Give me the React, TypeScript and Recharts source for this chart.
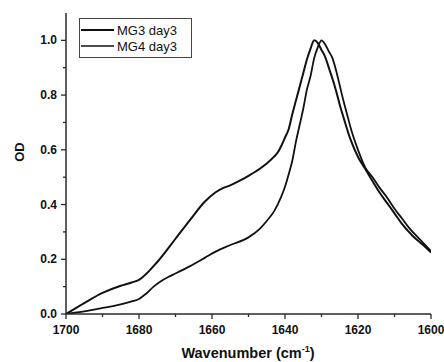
import React from "react";
import { LineChart, Line, XAxis, YAxis, Legend, Label } from "recharts";

const mg3Wavenumbers = [1700, 1695, 1690, 1685, 1682, 1680, 1675, 1670, 1666, 1662, 1659, 1657, 1655, 1652, 1650, 1647, 1645, 1643, 1642, 1641, 1640, 1639, 1638, 1637, 1636, 1635, 1634, 1633, 1632, 1631, 1630, 1629, 1628, 1627, 1626, 1625, 1624, 1622, 1620, 1618, 1616, 1614, 1612, 1610, 1608, 1605, 1602, 1600];
const mg3Values = [0.0, 0.04, 0.077, 0.103, 0.115, 0.125, 0.19, 0.275, 0.344, 0.41, 0.445, 0.46, 0.47, 0.49, 0.505, 0.53, 0.55, 0.575, 0.59, 0.615, 0.645, 0.675, 0.73, 0.78, 0.83, 0.88, 0.93, 0.97, 1.0, 0.99, 0.965, 0.94, 0.9, 0.86, 0.815, 0.765, 0.72, 0.636, 0.574, 0.53, 0.485, 0.442, 0.405, 0.368, 0.33, 0.285, 0.25, 0.225];

const mg4Wavenumbers = [1700, 1698, 1695, 1690, 1685, 1682, 1680, 1678, 1676, 1674, 1672, 1670, 1666, 1662, 1659, 1655, 1650, 1647, 1645, 1643, 1641, 1640, 1639, 1638, 1637, 1636, 1635, 1634, 1633, 1632, 1631, 1630, 1629, 1628, 1627, 1626, 1625, 1624, 1623, 1622, 1620, 1618, 1616, 1614, 1612, 1610, 1608, 1606, 1603, 1600];
const mg4Values = [0.0, 0.004, 0.01, 0.022, 0.035, 0.046, 0.055, 0.075, 0.1, 0.12, 0.135, 0.148, 0.175, 0.205, 0.228, 0.252, 0.28, 0.31, 0.34, 0.375, 0.43, 0.465, 0.51, 0.56, 0.63, 0.69, 0.75, 0.82, 0.87, 0.935, 0.975, 1.0, 0.985, 0.96, 0.935, 0.89, 0.835, 0.78, 0.73, 0.68, 0.6, 0.535, 0.5, 0.46, 0.425, 0.385, 0.35, 0.315, 0.272, 0.23];

const seriesNames = ["MG3 day3", "MG4 day3"];
const xTicks = [1600, 1610, 1620, 1630, 1640, 1650, 1660, 1670, 1680, 1690, 1700];
const xLabelTicks = [1600, 1620, 1640, 1660, 1680, 1700];
const yTicks = [0, 0.1, 0.2, 0.3, 0.4, 0.5, 0.6, 0.7, 0.8, 0.9, 1.0];
const yLabelTicks = [0, 0.2, 0.4, 0.6, 0.8, 1.0];

const mg3Data = mg3Wavenumbers.map((w, i) => ({ w, od: mg3Values[i] }));
const mg4Data = mg4Wavenumbers.map((w, i) => ({ w, od: mg4Values[i] }));

const FONT = "'Liberation Sans', Arial, sans-serif";
const AXIS = "#2a2a2a";

const XTick = (props: any) => {
  const { x, y, payload } = props;
  const v = payload.value;
  const major = xLabelTicks.some((t) => Math.abs(t - v) < 1e-6);
  return (
    <g>
      <line x1={x} x2={x} y1={y} y2={y + (major ? 5 : 3)} stroke={AXIS} strokeWidth={1.3} />
      {major && (
        <text x={x} y={y + 20} textAnchor="middle" fontFamily={FONT} fontWeight="bold" fontSize={12} fill="#111">
          {v}
        </text>
      )}
    </g>
  );
};

const YTick = (props: any) => {
  const { x, y, payload } = props;
  const v = payload.value;
  const major = yLabelTicks.some((t) => Math.abs(t - v) < 1e-6);
  return (
    <g>
      <line x1={x} x2={x - (major ? 5 : 3)} y1={y} y2={y} stroke={AXIS} strokeWidth={1.3} />
      {major && (
        <text x={x - 9} y={y + 4} textAnchor="end" fontFamily={FONT} fontWeight="bold" fontSize={12} fill="#111">
          {v.toFixed(1)}
        </text>
      )}
    </g>
  );
};

const LegendBox = () => (
  <div
    style={{
      border: "1px solid #444",
      width: 113,
      height: 40,
      boxSizing: "border-box",
      background: "#fff",
      fontFamily: FONT,
      fontSize: 13,
      color: "#111",
      paddingTop: 3,
    }}
  >
    {seriesNames.map((n, i) => (
      <div key={n} style={{ display: "flex", alignItems: "center", height: 16 }}>
        <svg width={36} height={16}>
          <line x1={1} x2={34} y1={8} y2={8} stroke="#111" strokeWidth={i === 0 ? 2 : 1.5} />
        </svg>
        <span style={{ marginLeft: 1 }}>{n}</span>
      </div>
    ))}
  </div>
);

export default function App() {
  return (
    <div style={{ position: "absolute", left: 0, top: 0, background: "#fff" }}>
      <LineChart width={444} height={362} margin={{ top: 13, right: 13, left: 0, bottom: 0 }}>
        <XAxis
          dataKey="w"
          type="number"
          domain={[1600, 1700]}
          reversed
          ticks={xTicks}
          interval={0}
          tickSize={0}
          tickMargin={0}
          tick={<XTick />}
          tickLine={false}
          height={48}
          axisLine={{ stroke: AXIS, strokeWidth: 1.5 }}
          allowDataOverflow
        >
          <Label
            content={() => (
              <text x={248} y={358} textAnchor="middle" fontFamily={FONT} fontWeight="bold" fontSize={14.5} fill="#111">
                Wavenumber (cm
                <tspan dy={-6} fontSize={9}>-1</tspan>
                <tspan dy={6}>)</tspan>
              </text>
            )}
          />
        </XAxis>
        <XAxis
          xAxisId="top"
          orientation="top"
          type="number"
          domain={[1600, 1700]}
          reversed
          height={0}
          tick={false}
          tickLine={false}
          axisLine={{ stroke: AXIS, strokeWidth: 1.5 }}
        />
        <YAxis
          type="number"
          domain={[0, 1.1]}
          ticks={yTicks}
          interval={0}
          tickSize={0}
          tickMargin={0}
          tick={<YTick />}
          tickLine={false}
          width={66}
          axisLine={{ stroke: AXIS, strokeWidth: 1.5 }}
          allowDataOverflow
        >
          <Label
            content={() => (
              <text
                x={24}
                y={152}
                transform="rotate(-90 24 152)"
                textAnchor="middle"
                fontFamily={FONT}
                fontWeight="bold"
                fontSize={13}
                fill="#111"
              >
                OD
              </text>
            )}
          />
        </YAxis>
        <YAxis
          yAxisId="right"
          orientation="right"
          type="number"
          domain={[0, 1.1]}
          width={0}
          tick={false}
          tickLine={false}
          axisLine={{ stroke: AXIS, strokeWidth: 1.5 }}
        />
        <Legend
          content={<LegendBox />}
          wrapperStyle={{ position: "absolute", left: 79, top: 18, width: 0, height: 0, overflow: "visible" }}
        />
        <Line
          data={mg3Data}
          dataKey="od"
          name={seriesNames[0]}
          type="monotone"
          stroke="#111"
          strokeWidth={2}
          dot={false}
          isAnimationActive={false}
        />
        <Line
          data={mg4Data}
          dataKey="od"
          name={seriesNames[1]}
          type="monotone"
          stroke="#111"
          strokeWidth={1.8}
          dot={false}
          isAnimationActive={false}
        />
      </LineChart>
    </div>
  );
}
